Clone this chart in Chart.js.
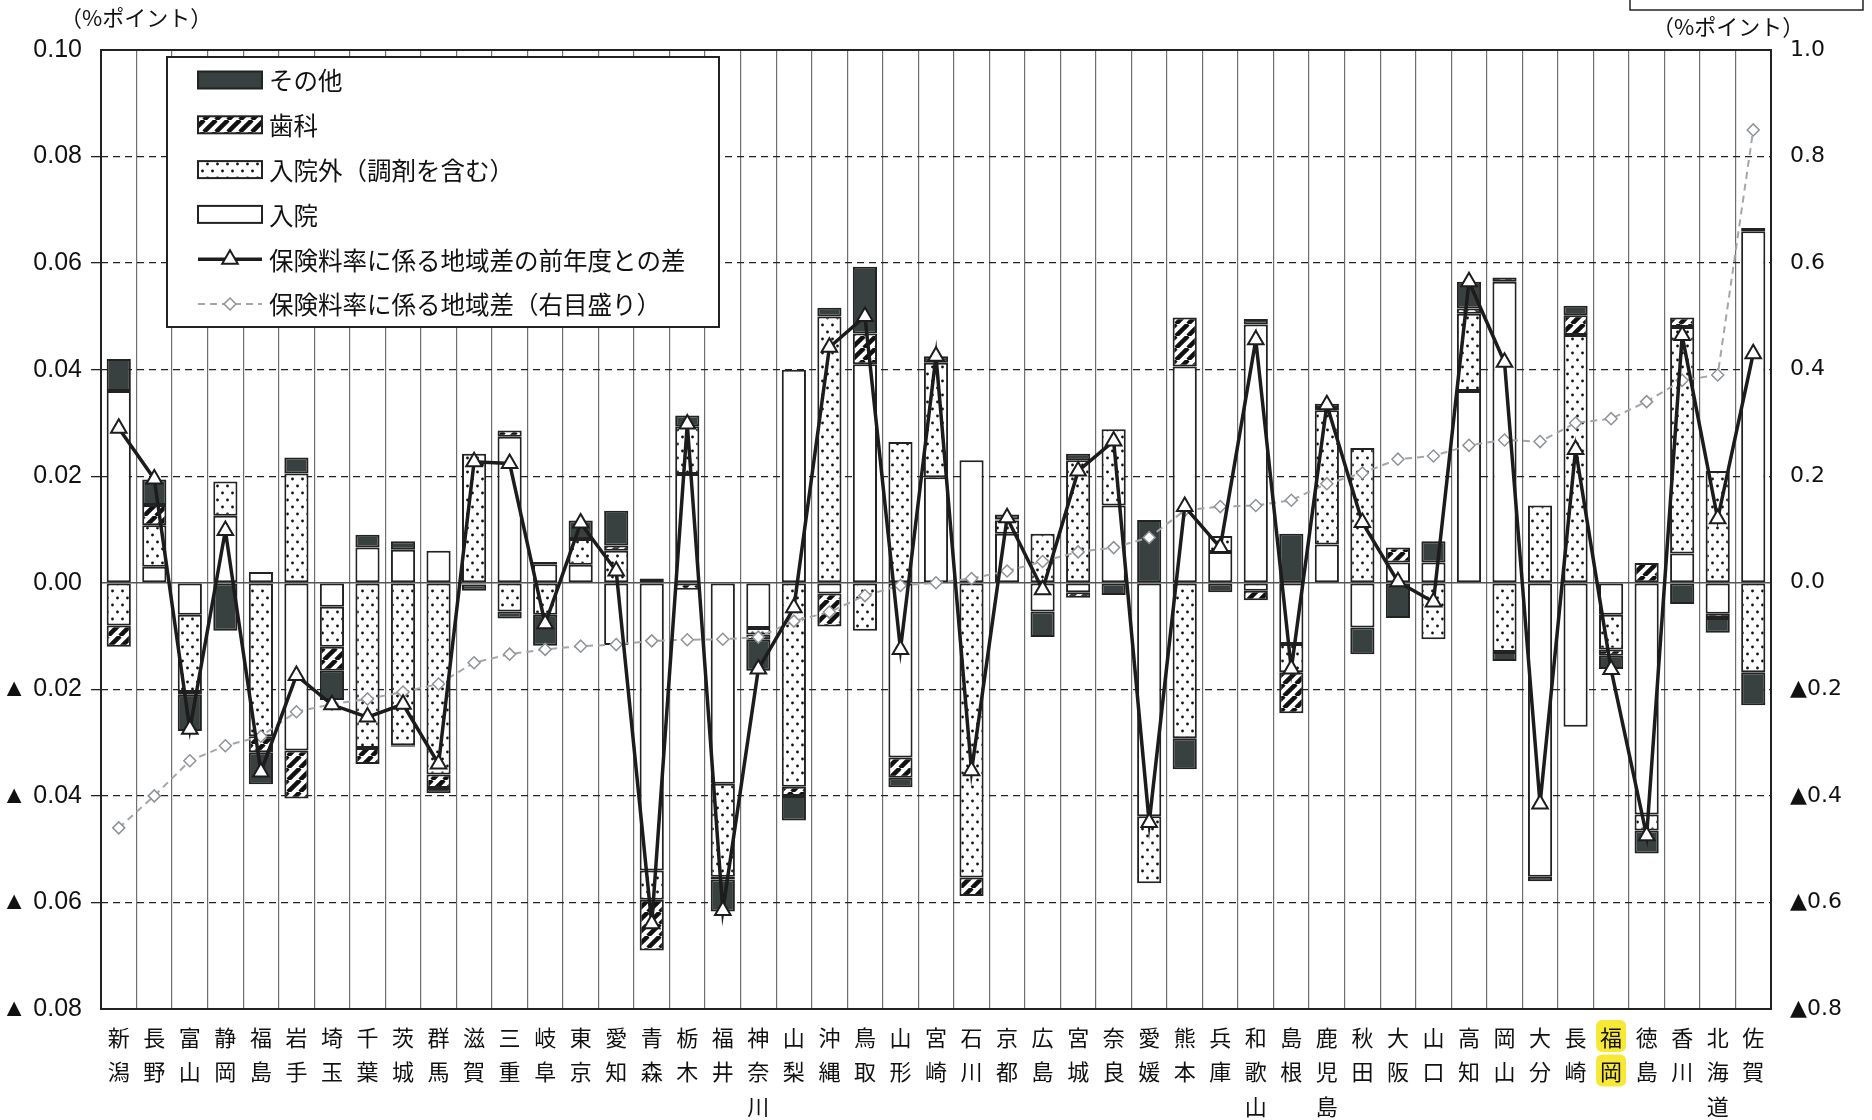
<!DOCTYPE html>
<html lang="ja">
<head>
<meta charset="utf-8">
<title>保険料率に係る地域差の前年度との差</title>
<script src="https://cdn.jsdelivr.net/npm/chart.js@4.4.1/dist/chart.umd.min.js"></script>
<style>
  html, body { margin: 0; padding: 0; background: #fff; }
  #wrap { width: 1872px; height: 1120px; }
</style>
</head>
<body>
<div id="wrap"><canvas id="chart" width="1872" height="1120"></canvas></div>
<script>
// 都道府県（横軸）
const prefectures = [
  "新潟", "長野", "富山", "静岡", "福島", "岩手", "埼玉", "千葉", "茨城", "群馬",
  "滋賀", "三重", "岐阜", "東京", "愛知", "青森", "栃木", "福井", "神奈川", "山梨",
  "沖縄", "鳥取", "山形", "宮崎", "石川", "京都", "広島", "宮城", "奈良", "愛媛",
  "熊本", "兵庫", "和歌山", "島根", "鹿児島", "秋田", "大阪", "山口", "高知", "岡山",
  "大分", "長崎", "福岡", "徳島", "香川", "北海道", "佐賀"
];

// 寄与（%ポイント、左目盛り）
const nyuin = [
  0.036, 0.003, -0.006, 0.0126, 0.002, -0.0315, -0.0045, 0.0066, 0.0062, 0.006,
  -0.0003, 0.0274, 0.0035, 0.0034, -0.0117, -0.054, 0.0204, -0.0377, -0.0085, 0.040,
  -0.002, 0.041, -0.0328, 0.0198, 0.023, 0.0092, -0.0054, -0.0018, 0.0145, -0.0438,
  0.0406, 0.0058, 0.0485, -0.0115, 0.0072, -0.0084, 0.0038, 0.0038, 0.036, 0.0565,
  -0.0552, -0.027, -0.006, -0.0435, 0.0055, -0.0058, 0.066
];
const nyuingai = [
  -0.008, 0.0078, -0.0145, 0.0064, -0.0288, 0.0205, -0.0075, -0.031, -0.0305, -0.036,
  0.0242, -0.0054, -0.006, 0.0048, 0.006, -0.0055, 0.009, -0.0175, -0.0012, -0.0383,
  0.050, -0.009, 0.0264, 0.0215, -0.0553, 0.0025, 0.0092, 0.023, 0.0143, -0.0126,
  -0.0292, 0.003, -0.0015, -0.0053, 0.0252, 0.0253, 0, -0.0106, 0.0145, -0.013,
  0.0145, 0.0465, -0.0065, -0.003, 0.0425, 0.021, -0.0168
];
const shika = [
  -0.004, 0.0038, -0.0005, 0, -0.003, -0.009, -0.0045, -0.003, -0.0003, -0.0025,
  0, 0.0012, 0.0004, 0, 0.001, -0.0095, -0.0013, -0.0005, -0.001, -0.0017,
  -0.0062, 0.0058, -0.0038, 0, -0.0035, 0.0002, 0, -0.001, 0, 0,
  0.0092, 0, -0.0018, -0.0077, 0.0004, 0, 0.0028, 0, 0.001, 0.0008,
  0, 0.0037, -0.0012, 0.0037, 0.0018, -0.0008, 0.0006
];
const sonota = [
  0.006, 0.0048, -0.0068, -0.009, -0.006, 0.003, -0.0055, 0.0024, 0.0016, -0.001,
  -0.0012, -0.0013, -0.0058, 0.0035, 0.0065, 0.0008, 0.002, -0.006, -0.0058, -0.0046,
  0.0016, 0.0125, -0.0018, 0.0012, 0, 0.0009, -0.0048, 0.0012, -0.0023, 0.0118,
  -0.0058, -0.0018, 0.001, 0.0092, 0.0008, -0.005, -0.0066, 0.004, 0.005, -0.0017,
  -0.0008, 0.0018, -0.0025, -0.0043, -0.004, -0.0028, -0.0062
];

// 保険料率に係る地域差の前年度との差（左目盛り）
const diffPrev = [
  0.029, 0.0195, -0.0275, 0.0098, -0.0355, -0.0174, -0.0229, -0.0252, -0.0228, -0.034,
  0.0227, 0.0224, -0.0077, 0.0112, 0.0022, -0.064, 0.0298, -0.0615, -0.0162, -0.0047,
  0.0442, 0.050, -0.0125, 0.0425, -0.0353, 0.0122, -0.0013, 0.021, 0.0266, -0.045,
  0.0143, 0.0066, 0.0456, -0.0162, 0.0334, 0.0113, 0.0002, -0.0036, 0.0565, 0.0414,
  -0.0415, 0.025, -0.0163, -0.0475, 0.0464, 0.012, 0.043
];

// 保険料率に係る地域差（右目盛り）
const regionDiff = [
  -0.46, -0.40, -0.334, -0.306, -0.288, -0.242, -0.228, -0.218, -0.205, -0.19,
  -0.15, -0.134, -0.125, -0.119, -0.116, -0.109, -0.107, -0.106, -0.102, -0.072,
  -0.055, -0.024, -0.005, 0.0, 0.008, 0.022, 0.040, 0.058, 0.066, 0.085,
  0.136, 0.143, 0.145, 0.155, 0.186, 0.206, 0.232, 0.238, 0.258, 0.268,
  0.265, 0.30, 0.308, 0.34, 0.38, 0.39, 0.85
];

const leftMin = -0.08, leftMax = 0.10, leftStep = 0.02;
const rightMin = -0.8, rightMax = 1.0, rightStep = 0.2;
const highlightPref = "福岡";

// 塗りパターン
function dotPattern() {
  const c = document.createElement("canvas");
  c.width = 10; c.height = 14;
  const g = c.getContext("2d");
  g.fillStyle = "#fff"; g.fillRect(0, 0, 10, 14);
  g.fillStyle = "#111";
  g.beginPath(); g.arc(2.5, 3, 1.4, 0, Math.PI * 2); g.fill();
  g.beginPath(); g.arc(7.5, 10, 1.4, 0, Math.PI * 2); g.fill();
  return g.createPattern(c, "repeat");
}
function hatchPattern() {
  const s = 12;
  const c = document.createElement("canvas");
  c.width = s; c.height = s;
  const g = c.getContext("2d");
  g.fillStyle = "#fff"; g.fillRect(0, 0, s, s);
  g.strokeStyle = "#111"; g.lineWidth = 4.5;
  [-s, 0, s].forEach(o => {
    g.beginPath(); g.moveTo(o, s); g.lineTo(o + s, 0); g.stroke();
  });
  return g.createPattern(c, "repeat");
}

const nz = arr => arr.map(v => (v === 0 ? null : v));
const cjk = '"Noto Sans CJK JP", "Noto Sans", sans-serif';
Chart.defaults.font.family = cjk;
Chart.defaults.color = "#111";

const barCommon = {
  type: "bar",
  yAxisID: "y",
  stack: "s",
  order: 3,
  borderColor: "#222",
  borderWidth: 2,
  borderSkipped: false,
  barPercentage: 0.68,
  categoryPercentage: 1.0
};

// 単位、枠、ゼロ線、凡例など
const decorPlugin = {
  id: "decor",
  beforeDatasetsDraw(chart) {
    const { ctx, chartArea: a, scales } = chart;
    const y0 = scales.y.getPixelForValue(0);
    ctx.save();
    ctx.strokeStyle = "#555";
    ctx.lineWidth = 1.5;
    ctx.beginPath(); ctx.moveTo(a.left, y0); ctx.lineTo(a.right, y0); ctx.stroke();
    ctx.restore();
  },
  afterDraw(chart) {
    const { ctx, chartArea: a, scales } = chart;
    ctx.save();
    // 枠
    ctx.strokeStyle = "#222";
    ctx.lineWidth = 2;
    ctx.strokeRect(a.left, a.top, a.right - a.left, a.bottom - a.top);

    // 単位
    ctx.fillStyle = "#111";
    ctx.font = "22px " + cjk;
    ctx.textBaseline = "middle";
    ctx.textAlign = "left";
    ctx.fillText("（%ポイント）", 60, 18);
    ctx.fillText("（%ポイント）", 1652, 27);

    // 右上の切れた枠
    ctx.lineWidth = 1.5;
    ctx.strokeRect(1630, -4, 233, 14);

    // 強調表示（福岡）— 文字の背後に描く
    const idx = prefectures.indexOf(highlightPref);
    const xc = scales.x.getPixelForValue(idx);
    ctx.globalCompositeOperation = "destination-over";
    ctx.fillStyle = "#f7e836";
    [1036, 1070.6].forEach(yc => {
      ctx.beginPath();
      ctx.roundRect(xc - 15, yc - 16, 30, 32, 6);
      ctx.fill();
    });
    ctx.globalCompositeOperation = "source-over";

    // 凡例
    const lx = 167, ly = 57, lw = 552, lh = 270;
    ctx.fillStyle = "#fff";
    ctx.fillRect(lx, ly, lw, lh);
    ctx.strokeStyle = "#222";
    ctx.lineWidth = 2;
    ctx.strokeRect(lx, ly, lw, lh);

    const ds = chart.data.datasets;
    const byLabel = l => ds.find(d => d.label === l);
    const rows = ["その他", "歯科", "入院外（調剤を含む）", "入院",
      "保険料率に係る地域差の前年度との差", "保険料率に係る地域差（右目盛り）"];
    const sx = 198, sw = 64;
    rows.forEach((label, i) => {
      const d = byLabel(label);
      const yc = 80 + i * 44.8;
      if (d.type === "bar") {
        ctx.fillStyle = d.backgroundColor;
        ctx.fillRect(sx, yc - 8.5, sw, 17);
        ctx.strokeStyle = "#222";
        ctx.lineWidth = 2;
        ctx.strokeRect(sx, yc - 8.5, sw, 17);
      } else {
        ctx.strokeStyle = d.borderColor;
        ctx.lineWidth = d.borderWidth;
        ctx.setLineDash(d.borderDash || []);
        ctx.beginPath(); ctx.moveTo(sx, yc); ctx.lineTo(sx + sw, yc); ctx.stroke();
        ctx.setLineDash([]);
        ctx.fillStyle = d.pointBackgroundColor;
        ctx.strokeStyle = d.pointBorderColor;
        ctx.lineWidth = d.pointBorderWidth;
        Chart.helpers.drawPoint(ctx, {
          pointStyle: d.pointStyle, radius: d.pointRadius, borderWidth: d.pointBorderWidth, rotation: 0
        }, sx + sw / 2, yc);
      }
      ctx.fillStyle = "#111";
      ctx.font = "24.5px " + cjk;
      ctx.textAlign = "left";
      ctx.textBaseline = "middle";
      ctx.fillText(label, 269, yc + 1);
    });
    ctx.restore();
  }
};

const leftTick = v => {
  const r = Math.round(v * 100) / 100;
  if (Math.abs(r) < 1e-9) return "0.00";
  return r < 0 ? "▲ " + (-r).toFixed(2) : r.toFixed(2);
};
const rightTick = v => {
  const r = Math.round(v * 10) / 10;
  if (Math.abs(r) < 1e-9) return "0.0";
  return r < 0 ? "▲" + (-r).toFixed(1) : r.toFixed(1);
};

const edgeOrZero = v => Math.abs(v) < 1e-9 || Math.abs(v - leftMax) < 1e-9 || Math.abs(v - leftMin) < 1e-9;

new Chart(document.getElementById("chart"), {
  data: {
    labels: prefectures.map(p => p.split("")),
    datasets: [
      { ...barCommon, label: "入院", data: nz(nyuin), backgroundColor: "#ffffff" },
      { ...barCommon, label: "入院外（調剤を含む）", data: nz(nyuingai), backgroundColor: dotPattern() },
      { ...barCommon, label: "歯科", data: nz(shika), backgroundColor: hatchPattern() },
      { ...barCommon, label: "その他", data: nz(sonota), backgroundColor: "#394040" },
      {
        type: "line",
        label: "保険料率に係る地域差（右目盛り）",
        data: regionDiff,
        yAxisID: "y2",
        order: 2,
        borderColor: "#a3a7ab",
        borderWidth: 2,
        borderDash: [7, 5],
        pointStyle: "rectRot",
        pointRadius: 6,
        pointBackgroundColor: "#ffffff",
        pointBorderColor: "#8e9296",
        pointBorderWidth: 1.5,
        tension: 0
      },
      {
        type: "line",
        label: "保険料率に係る地域差の前年度との差",
        data: diffPrev,
        yAxisID: "y",
        stack: "diff",
        order: 1,
        borderColor: "#1c1c1c",
        borderWidth: 3.5,
        pointStyle: "triangle",
        pointRadius: 9,
        pointBackgroundColor: "#ffffff",
        pointBorderColor: "#1c1c1c",
        pointBorderWidth: 2,
        tension: 0
      }
    ]
  },
  options: {
    responsive: false,
    animation: false,
    layout: { padding: { top: 50, left: 0, right: 0, bottom: 0 } },
    plugins: {
      legend: { display: false },
      tooltip: { enabled: false }
    },
    scales: {
      x: {
        stacked: true,
        grid: { color: "#6f6f6f", lineWidth: 1.2, drawTicks: false, offset: true },
        border: { display: false },
        ticks: {
          autoSkip: false,
          maxRotation: 0,
          padding: 11,
          color: "#111",
          font: { size: 22, lineHeight: 1.57, family: cjk }
        },
        afterFit: s => { s.height = 111; }
      },
      y: {
        position: "left",
        stacked: true,
        min: leftMin,
        max: leftMax,
        grid: {
          color: c => (c.tick && edgeOrZero(c.tick.value) ? "rgba(0,0,0,0)" : "#222"),
          lineWidth: 1.3,
          tickLength: 10
        },
        border: { display: false, dash: [7, 5] },
        ticks: {
          stepSize: leftStep,
          padding: 9,
          color: "#111",
          callback: leftTick,
          font: { size: 25, family: '"Liberation Sans Narrow", "Liberation Sans", sans-serif' }
        },
        afterFit: s => { s.width = 101; }
      },
      y2: {
        position: "right",
        min: rightMin,
        max: rightMax,
        grid: { display: false },
        border: { display: false },
        ticks: {
          stepSize: rightStep,
          padding: 11,
          color: "#111",
          callback: rightTick,
          font: { size: 22, family: '"DejaVu Sans", sans-serif' }
        },
        afterFit: s => { s.width = 101; }
      }
    }
  },
  plugins: [decorPlugin]
});
</script>
</body>
</html>
